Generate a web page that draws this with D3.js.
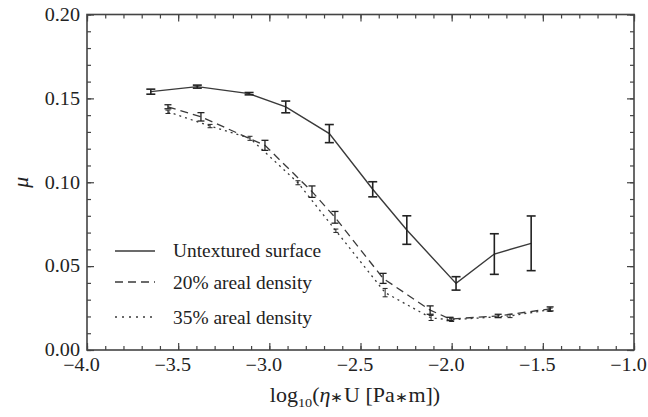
<!DOCTYPE html>
<html>
<head>
<meta charset="utf-8">
<script src="https://cdn.jsdelivr.net/npm/d3@7"></script>
<style>
  html, body { margin: 0; padding: 0; background: #fff; }
  svg { display: block; }
  text { font-family: "Liberation Serif", "Times New Roman", serif; fill: #222; }
</style>
</head>
<body>
<svg id="chart" width="648" height="417"></svg>
<script>
// ---- data ----
const xTicks = [-4.0, -3.5, -3.0, -2.5, -2.0, -1.5, -1.0];
const yTicks = [0.00, 0.05, 0.10, 0.15, 0.20];

const solidX   = [-3.65, -3.395, -3.111, -2.91, -2.671, -2.433, -2.246, -1.976, -1.766, -1.564];
const solidY   = [0.154, 0.157, 0.1528, 0.1449, 0.129, 0.0958, 0.0715, 0.0397, 0.0572, 0.0636];
const solidErr = [0.0015, 0.0009, 0.0007, 0.0035, 0.0054, 0.0045, 0.0085, 0.004, 0.0121, 0.0163];

const dashX   = [-3.556, -3.375, -3.024, -2.766, -2.640, -2.376, -2.118, -2.009, -1.745, -1.460];
const dashY   = [0.145, 0.139, 0.122, 0.0944, 0.0791, 0.0427, 0.0238, 0.0185, 0.0203, 0.0245];
const dashErr = [0.0012, 0.0025, 0.003, 0.0034, 0.0035, 0.003, 0.0025, 0.001, 0.001, 0.0012];

const dotX   = [-3.556, -3.325, -3.106, -2.843, -2.635, -2.365, -2.113, -2.00, -1.68, -1.46];
const dotY   = [0.142, 0.1335, 0.1262, 0.0997, 0.0711, 0.0342, 0.0191, 0.018, 0.0203, 0.024];
const dotErr = [0.001, 0.001, 0.0012, 0.0012, 0.001, 0.0025, 0.0015, 0.001, 0.001, 0.001];

const legendLabels = ["Untextured surface", "20% areal density", "35% areal density"];

// ---- layout ----
const svg = d3.select("#chart");
const L = 87, R = 634, T = 14.5, B = 350;
const x = d3.scaleLinear().domain([-4, -1]).range([L, R]);
const y = d3.scaleLinear().domain([0, 0.2]).range([B, T]);
const axisColor = "#444";
const lineColor = "#3a3a3a";
const SX = 1.12; // horizontal stretch of the serif glyphs

const minorX = d3.range(-4, -0.999, 0.1).map(v => +v.toFixed(2));
const minorY = d3.range(0, 0.2001, 0.01).map(v => +v.toFixed(3));

function styleAxis(g) {
  g.select(".domain").remove();
  g.selectAll(".tick line").attr("stroke", axisColor).attr("stroke-width", 1.2);
}

// minor ticks
svg.append("g").attr("transform", `translate(0,${B})`)
  .call(d3.axisBottom(x).tickValues(minorX).tickSize(-4).tickFormat(""))
  .call(styleAxis);
svg.append("g").attr("transform", `translate(0,${T})`)
  .call(d3.axisTop(x).tickValues(minorX).tickSize(-4).tickFormat(""))
  .call(styleAxis);
svg.append("g").attr("transform", `translate(${L},0)`)
  .call(d3.axisLeft(y).tickValues(minorY).tickSize(-4).tickFormat(""))
  .call(styleAxis);
svg.append("g").attr("transform", `translate(${R},0)`)
  .call(d3.axisRight(y).tickValues(minorY).tickSize(-4).tickFormat(""))
  .call(styleAxis);

// major ticks
const gx = svg.append("g").attr("transform", `translate(0,${B})`)
  .call(d3.axisBottom(x).tickValues(xTicks).tickSizeInner(-7).tickSizeOuter(0).tickPadding(8)
    .tickFormat(d3.format(".1f")))
  .call(styleAxis);
gx.selectAll("text").attr("font-size", 18).attr("fill", "#222")
  .attr("font-family", "Liberation Serif")
  .attr("x", -6 / SX)
  .attr("transform", `scale(${SX},1)`);
svg.append("g").attr("transform", `translate(0,${T})`)
  .call(d3.axisTop(x).tickValues(xTicks).tickSize(-7).tickFormat(""))
  .call(styleAxis);

const gy = svg.append("g").attr("transform", `translate(${L},0)`)
  .call(d3.axisLeft(y).tickValues(yTicks).tickSizeInner(-7).tickSizeOuter(0).tickPadding(7)
    .tickFormat(d3.format(".2f")))
  .call(styleAxis);
gy.selectAll("text").attr("font-size", 18).attr("fill", "#222")
  .attr("font-family", "Liberation Serif")
  .attr("x", -7 / SX)
  .attr("transform", `scale(${SX},1)`);
svg.append("g").attr("transform", `translate(${R},0)`)
  .call(d3.axisRight(y).tickValues(yTicks).tickSize(-7).tickFormat(""))
  .call(styleAxis);

// frame
svg.append("rect").attr("x", L).attr("y", T).attr("width", R - L).attr("height", B - T)
  .attr("fill", "none").attr("stroke", axisColor).attr("stroke-width", 1.6);

// ---- series ----
function series(xs, ys, es, dash, width, cap, ebWidth) {
  const pts = xs.map((v, i) => ({ x: v, y: ys[i], e: es[i] }));
  const line = d3.line().x(d => x(d.x)).y(d => y(d.y));
  svg.append("path").datum(pts).attr("d", line)
    .attr("fill", "none").attr("stroke", lineColor).attr("stroke-width", width)
    .attr("stroke-dasharray", dash);
  const g = svg.append("g").attr("stroke", "#222").attr("stroke-width", ebWidth).attr("fill", "none");
  pts.forEach(d => {
    const cx = x(d.x), y0 = y(d.y - d.e), y1 = y(d.y + d.e);
    g.append("line").attr("x1", cx).attr("x2", cx).attr("y1", y0).attr("y2", y1);
    g.append("line").attr("x1", cx - cap).attr("x2", cx + cap).attr("y1", y0).attr("y2", y0);
    g.append("line").attr("x1", cx - cap).attr("x2", cx + cap).attr("y1", y1).attr("y2", y1);
  });
}
series(dotX, dotY, dotErr, "2,4", 1.3, 2.5, 1.0);
series(dashX, dashY, dashErr, "8,5", 1.3, 3.5, 1.3);
series(solidX, solidY, solidErr, null, 1.4, 4.5, 1.6);

// ---- legend ----
const legDash = [null, "8,5", "2,5"];
const legLineY = [251, 282, 317];
const legTextY = [257, 289, 324];
legendLabels.forEach((lab, i) => {
  svg.append("line").attr("x1", 115).attr("x2", 155)
    .attr("y1", legLineY[i]).attr("y2", legLineY[i])
    .attr("stroke", lineColor).attr("stroke-width", 1.4)
    .attr("stroke-dasharray", legDash[i]);
  svg.append("text").attr("transform", `translate(173,${legTextY[i]}) scale(1.05,1)`)
    .attr("font-size", 18.5).text(lab);
});

// ---- axis titles ----
const title = svg.append("text")
  .attr("transform", `translate(355,402) scale(1.1,1)`)
  .attr("text-anchor", "middle").attr("font-size", 20);
title.append("tspan").text("log");
title.append("tspan").attr("font-size", 13).attr("dy", 5).text("10");
title.append("tspan").attr("dy", -5).text("(");
title.append("tspan").attr("font-style", "italic").text("η");
title.append("tspan").attr("font-size", 14).text("∗");
title.append("tspan").text("U [Pa");
title.append("tspan").attr("font-size", 14).text("∗");
title.append("tspan").text("m])");

svg.append("text")
  .attr("transform", `translate(28,${(T + B) / 2}) rotate(-90)`)
  .attr("text-anchor", "middle").attr("font-size", 22).attr("font-style", "italic")
  .text("μ");
</script>
</body>
</html>
